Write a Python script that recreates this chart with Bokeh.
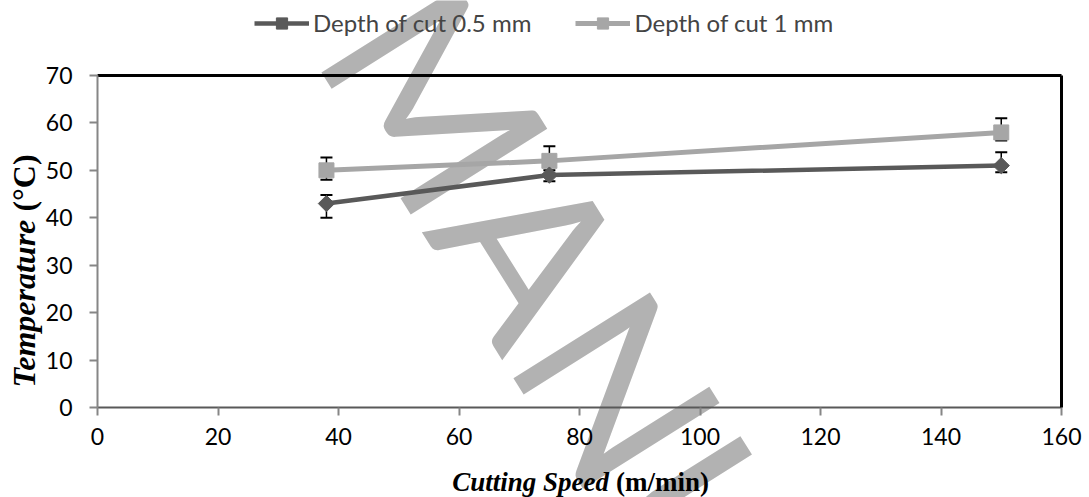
import numpy as np
from bokeh.plotting import figure
from bokeh.models import (ColumnDataSource, Label, Whisker, TeeHead,
                          Legend, LegendItem, FixedTicker, LinearAxis)
from bokeh.embed import file_html
from bokeh.resources import INLINE

# ---- data ----
speed = [38, 75, 150]
temp_05 = [43, 49, 51]
temp_05_low = [40.0, 47.7, 49.6]
temp_05_high = [44.8, 50.0, 53.8]
temp_1 = [50, 52, 58]
temp_1_low = [48.0, 49.2, 56.3]
temp_1_high = [52.7, 55.1, 61.0]

x_ticks = [0, 20, 40, 60, 80, 100, 120, 140, 160]
y_ticks = [0, 10, 20, 30, 40, 50, 60, 70]

series_names = ["Depth of cut 0.5 mm", "Depth of cut 1 mm"]

DARK = "#595959"
LIGHT = "#a6a6a6"
AXGREY = "#868686"
FONT = "Lato"
SERIF = "Liberation Serif"

# canvas = frame; the plot area (0..160, 0..70) sits at px 97..1061 / 75..407
W, H = 1089, 497
px_x = (1061 - 97) / 160.0
px_y = (407 - 75) / 70.0
x_rng = (-97 / px_x, 160 + (W - 1061) / px_x)
y_rng = (-(H - 407) / px_y, 70 + 75 / px_y)

p = figure(width=W, height=H, x_range=x_rng, y_range=y_rng,
           output_backend="svg", toolbar_location=None,
           min_border=0, min_border_left=0, min_border_right=0,
           min_border_top=0, min_border_bottom=0)
p.outline_line_color = None
p.xgrid.grid_line_color = None
p.ygrid.grid_line_color = None
p.background_fill_color = "white"
p.border_fill_color = "white"

# watermark (drawn under data)
p.add_layout(Label(x=47.57, y=84.10, text="MANUSCRIPT", angle=-1.01,
                   text_font="Lato", text_font_size="225px",
                   text_color="#b2b2b2", text_align="left",
                   text_baseline="alphabetic", level="underlay"))

src05 = ColumnDataSource(dict(x=speed, y=temp_05, lo=temp_05_low, hi=temp_05_high))
src1 = ColumnDataSource(dict(x=speed, y=temp_1, lo=temp_1_low, hi=temp_1_high))

for src in (src05, src1):
    p.add_layout(Whisker(base="x", lower="lo", upper="hi", source=src,
                         line_color="black", line_width=1.5,
                         upper_head=TeeHead(size=12, line_color="black", line_width=2),
                         lower_head=TeeHead(size=12, line_color="black", line_width=2),
                         level="underlay"))

l1 = p.line("x", "y", source=src1, line_color=LIGHT, line_width=5)
s1 = p.scatter("x", "y", source=src1, marker="square", size=15,
               fill_color=LIGHT, line_color=LIGHT)
l05 = p.line("x", "y", source=src05, line_color=DARK, line_width=4.5)
s05 = p.scatter("x", "y", source=src05, marker="square", angle=np.pi / 4,
                size=11.5, fill_color=DARK, line_color=DARK)

# main axes, pinned to the plot-area edges
xa = p.xaxis[0]
ya = p.yaxis[0]
xa.fixed_location = 0
ya.fixed_location = 0
xa.bounds = (0, 160)
ya.bounds = (0, 70)
for ax in (xa, ya):
    ax.major_label_text_font = FONT
    ax.major_label_text_font_size = "23px"
    ax.major_label_text_color = "black"
    ax.major_tick_line_color = AXGREY
    ax.major_tick_line_width = 2
    ax.major_tick_out = 8
    ax.major_tick_in = 0
    ax.minor_tick_line_color = None
    ax.axis_line_width = 2
xa.ticker = FixedTicker(ticks=x_ticks)
ya.ticker = FixedTicker(ticks=y_ticks)
xa.axis_line_color = DARK
ya.axis_line_color = AXGREY
ya.major_label_standoff = 17
xa.major_label_standoff = 12

# black top and right border as tick-less axes
top = LinearAxis(fixed_location=70, bounds=(0, 160), ticker=FixedTicker(ticks=[]),
                 major_label_text_font_size="0px", axis_line_color="black",
                 axis_line_width=3, major_tick_line_color=None, minor_tick_line_color=None)
right = LinearAxis(fixed_location=160, bounds=(0, 70), ticker=FixedTicker(ticks=[]),
                   major_label_text_font_size="0px", axis_line_color="black",
                   axis_line_width=3, major_tick_line_color=None, minor_tick_line_color=None)
p.add_layout(top, "above")
p.add_layout(right, "right")

# axis titles with mixed styles
p.add_layout(Label(x=84.9, y=-15.8, text="Cutting Speed", text_font=SERIF,
                   text_font_size="27px", text_font_style="bold italic",
                   text_align="right", text_baseline="middle", text_color="black"))
p.add_layout(Label(x=86.06, y=-15.8, text="(m/min)", text_font=SERIF,
                   text_font_size="27px", text_font_style="bold",
                   text_align="left", text_baseline="middle", text_color="black"))
p.add_layout(Label(x=-12.28, y=39.6, text="Temperature", text_font=SERIF,
                   text_font_size="32px", text_font_style="bold italic", angle=np.pi / 2,
                   text_align="right", text_baseline="middle", text_color="black"))
p.add_layout(Label(x=-12.28, y=41.3, text="(\u00b0C)", text_font=SERIF,
                   text_font_size="32px", text_font_style="bold", angle=np.pi / 2,
                   text_align="left", text_baseline="middle", text_color="black"))

legend = Legend(items=[LegendItem(label=series_names[0], renderers=[l05, s05]),
                       LegendItem(label=series_names[1], renderers=[l1, s1])],
                orientation="horizontal", location=(254, 460),
                label_text_font=FONT, label_text_font_size="24px",
                glyph_width=55, glyph_height=28, label_height=28,
                spacing=44, label_standoff=4, padding=0, margin=0,
                border_line_color=None, background_fill_alpha=0)
p.add_layout(legend)

open("out.html", "w").write(file_html(p, INLINE))
